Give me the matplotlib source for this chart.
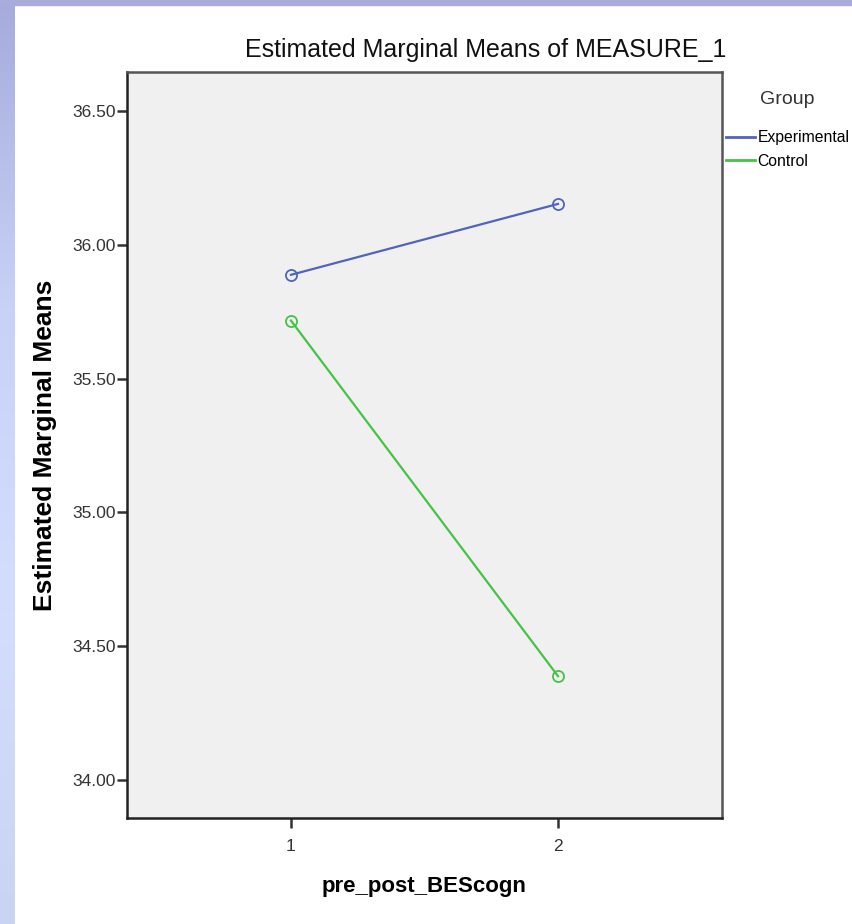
import matplotlib
matplotlib.use("Agg")
import matplotlib.pyplot as plt
from matplotlib.patches import Rectangle
import numpy as np

# data
time_points = [1, 2]
groups = ["Experimental", "Control"]
experimental_means = [35.888, 36.153]
control_means = [35.717, 34.388]
y_ticks = [34.0, 34.5, 35.0, 35.5, 36.0, 36.5]

colors = {"Experimental": "#4f64bb", "Control": "#45c345"}
font = "Liberation Sans"

W, H = 852, 924
fig = plt.figure(figsize=(W / 100, H / 100), dpi=100)

# slide background strips (left gradient + top band)
grad = np.linspace(0, 1, 256).reshape(-1, 1)
bg_ax = fig.add_axes([0, 0, 15 / W, 1])
bg_ax.imshow(grad, aspect="auto", cmap=matplotlib.colors.LinearSegmentedColormap.from_list(
    "strip", ["#a6abda", "#c8d2f6", "#d4defc", "#c8d4f0"]), extent=[0, 1, 0, 1], origin="upper")
bg_ax.axis("off")
fig.patches.append(Rectangle((0, 1 - 5 / H), 1, 5 / H, transform=fig.transFigure,
                             color="#a7acdb", zorder=0))

ax = fig.add_axes([127 / W, 1 - 818 / H, 595 / W, 746 / H])
ax.set_facecolor("#f0f0f0")

for name, vals in zip(groups, [experimental_means, control_means]):
    ax.plot(time_points, vals, color=colors[name], linewidth=1.6, marker="o",
            markersize=8, markerfacecolor="none", markeredgewidth=1.3, label=name)

ax.set_xlim(0.386, 2.614)
ax.set_ylim(33.858, 36.646)
ax.set_xticks(time_points)
ax.set_yticks(y_ticks)
ax.set_yticklabels([f"{v:.2f}" for v in y_ticks])
ax.tick_params(axis="both", length=7, width=1.8, color="#333333", labelcolor="#333333",
               labelsize=12.5)
ax.tick_params(axis="y", pad=1)
ax.tick_params(axis="x", pad=8)
for lbl in ax.get_xticklabels() + ax.get_yticklabels():
    lbl.set_fontfamily(font)

for side in ["left", "bottom"]:
    ax.spines[side].set_linewidth(1.8)
    ax.spines[side].set_color("#222222")
for side in ["top", "right"]:
    ax.spines[side].set_linewidth(1.8)
    ax.spines[side].set_color("#555555")

ax.set_ylabel("Estimated Marginal Means", fontsize=19, fontweight="bold",
              family=font, labelpad=11)
ax.set_xlabel("pre_post_BEScogn", fontsize=16, fontweight="bold",
              family=font, labelpad=16)

fig.text(486 / W, 1 - 50 / H, "Estimated Marginal Means of MEASURE_1",
         ha="center", va="center", fontsize=18, family=font, color="#111111")

fig.text(787 / W, 1 - 100 / H, "Group", ha="center", va="center",
         fontsize=14, family=font, color="#333333")
leg = ax.legend(loc="upper left", bbox_to_anchor=(726 / W, 1 - 130 / H),
                bbox_transform=fig.transFigure, frameon=False, handlelength=1.85,
                handletextpad=0.15, labelspacing=0.55, borderaxespad=0, borderpad=0,
                prop={"family": font, "size": 11.3})
for h in leg.legend_handles:
    h.set_marker("")
    h.set_linewidth(2)

fig.savefig("out.png", dpi=100, facecolor="white")
